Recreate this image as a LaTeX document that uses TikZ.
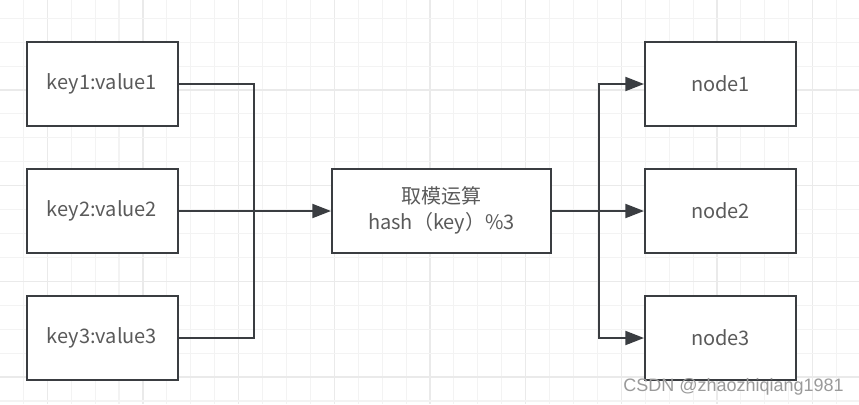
\documentclass[tikz,border=0pt]{standalone}
\usepackage{fontspec}
\setmainfont{Noto Sans CJK SC}
\newfontfamily\wmfont{Liberation Sans}
\usetikzlibrary{arrows.meta}
\definecolor{gridminor}{HTML}{F3F3F3}
\definecolor{gridmajor}{HTML}{EAEAEA}
\definecolor{boxline}{HTML}{3A3D41}
\definecolor{txt}{HTML}{5A5A5A}
\definecolor{wm}{HTML}{9A9A9A}
\tikzset{
  box/.style={draw=boxline, line width=1.5pt, fill=white, minimum width=113.25pt, minimum height=63pt, inner sep=0pt, text=txt, font=\fontsize{15pt}{18pt}\selectfont},
  bigbox/.style={box, minimum width=164.25pt, align=center, font=\fontsize{15pt}{19.5pt}\selectfont},
  conn/.style={draw=boxline, line width=1.5pt},
  arr/.style={conn, -{Triangle[length=14pt, width=10.5pt]}},
}
\begin{document}
\begin{tikzpicture}[x=0.75pt, y=-0.75pt]
\useasboundingbox (0,0) rectangle (859,404);
\fill[white] (0,0) rectangle (859,404);
% grid
\foreach \i in {0,...,36}{
  \pgfmathsetmacro{\xx}{-0.6+23.92*\i}
  \pgfmathtruncatemacro{\m}{mod(\i,4)}
  \ifnum\m=2
    \draw[gridmajor, line width=1.1pt] (\xx,0) -- (\xx,404);
  \else
    \draw[gridminor, line width=0.8pt] (\xx,0) -- (\xx,404);
  \fi
}
\foreach \j in {1,...,17}{
  \pgfmathsetmacro{\yy}{-5.68+23.92*\j}
  \pgfmathtruncatemacro{\m}{mod(\j,4)}
  \ifnum\m=0
    \draw[gridmajor, line width=1.1pt] (0,\yy) -- (859,\yy);
  \else
    \draw[gridminor, line width=0.8pt] (0,\yy) -- (859,\yy);
  \fi
}
% nodes
\node[box] (k1) at (102,84) {key1:value1};
\node[box] (k2) at (102,211) {key2:value2};
\node[box] (k3) at (102,338) {key3:value3};
\node[bigbox] (c) at (441.5,210.5) {取模运算\\hash（key）\%3};
\node[box] (n1) at (720.5,84) {node1};
\node[box] (n2) at (720.5,211) {node2};
\node[box] (n3) at (720.5,338) {node3};
% connectors
\coordinate (jl) at (254,211);
\coordinate (jr) at (599,211);
\draw[conn] (k1.east) -| (jl);
\draw[conn] (k3.east) -| (jl);
\draw[arr] (k2.east) -- (c.west |- k2.east);
\draw[conn] (c.east |- jr) -- (jr);
\draw[arr] (jr) -- (n2.west);
\draw[arr] (jr) |- (n1.west);
\draw[arr] (jr) |- (n3.west);
% watermark
\node[anchor=base east, inner sep=0pt, text=wm, font=\wmfont\fontsize{13.5pt}{16pt}\selectfont] (wmk) at (844,391) {CSDN @zhaozhiqiang1981};
\end{tikzpicture}
\end{document}
